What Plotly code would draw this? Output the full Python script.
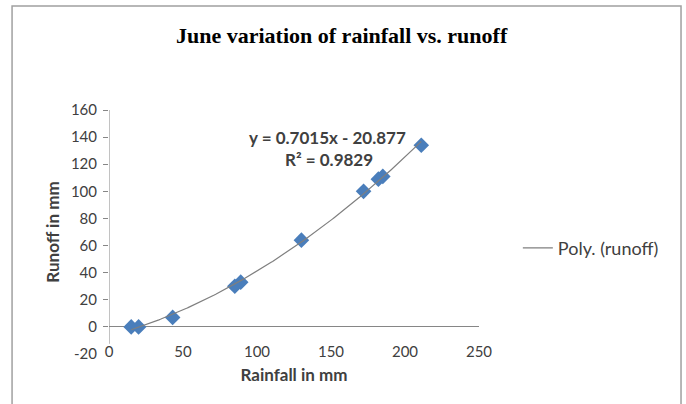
import numpy as np
import plotly.graph_objects as go

# Data
rainfall = [15, 20, 43, 85, 89, 130, 172, 182, 185, 211]
runoff = [0, 0, 7, 30, 33, 64, 100, 109, 111, 134]

title_text = "June variation of rainfall vs. runoff"
x_title = "Rainfall in mm"
y_title = "Runoff in mm"
trend_name = "Poly. (runoff)"
eq_line1 = "y = 0.7015x - 20.877"
eq_line2 = "R² = 0.9829"

x_ticks = [0, 50, 100, 150, 200, 250]
y_ticks = [-20, 0, 20, 40, 60, 80, 100, 120, 140, 160]
y_tick_labels = ["-20", "0", "20", "40", "60", "80", "100", "120", "140", "160"]
y_tick_marks = [0, 20, 40, 60, 80, 100, 120, 140, 160]
y_range = [-20, 160]
y_line_bottom = -12.5

# Polynomial (order 2) trendline, as in the spreadsheet
coef = np.polyfit(rainfall, runoff, 2)
xs = np.linspace(min(rainfall), max(rainfall), 200)
ys = np.polyval(coef, xs)

BLUE = "#4A7EBB"
AXIS = "#868686"
TXT = "#404040"
FONT = "Lato"

fig = go.Figure()
fig.add_trace(go.Scatter(
    x=xs, y=ys, mode="lines", name=trend_name, yaxis="y2",
    line=dict(color="#7F7F7F", width=1.2), showlegend=True,
))
fig.add_trace(go.Scatter(
    x=rainfall, y=runoff, mode="markers", name="runoff",
    marker=dict(symbol="diamond", size=12, color=BLUE,
                line=dict(width=0)),
    showlegend=False,
))

fig.update_layout(
    width=686, height=404,
    margin=dict(l=109, r=207, t=110, b=50),
    paper_bgcolor="white", plot_bgcolor="white",
    font=dict(family=FONT, size=15, color=TXT),
    title=dict(text=title_text, x=0.498, xref="container", xanchor="center",
               y=1 - 35 / 404, yref="container", yanchor="middle",
               font=dict(family="Liberation Serif", size=22, color="#000000",
                         weight="bold")),
    xaxis=dict(range=[0, 250], tickvals=x_ticks, showgrid=False,
               zeroline=False, showline=False, ticks="",
               anchor="free", position=0.055,
               tickfont=dict(size=15, color=TXT),
               title=dict(text=x_title, standoff=10,
                          font=dict(size=17, color=TXT, weight="bold"))),
    yaxis=dict(range=y_range, tickvals=y_ticks, ticktext=y_tick_labels,
               showgrid=False,
               zeroline=True, zerolinecolor=AXIS, zerolinewidth=1,
               showline=False, ticks="",
               ticklabelstandoff=11,
               tickfont=dict(size=15, color=TXT),
               title=dict(text=y_title, standoff=6,
                          font=dict(size=17, color=TXT, weight="bold"))),
    yaxis2=dict(range=y_range, overlaying="y", side="left",
                tickvals=y_tick_marks, showticklabels=False,
                showgrid=False, zeroline=False, showline=False,
                ticks="outside", ticklen=5, tickcolor=AXIS),
    legend=dict(x=1.105, xanchor="left", y=0.434, yanchor="middle",
                bgcolor="rgba(0,0,0,0)", font=dict(size=18, color=TXT)),
    showlegend=True,
)

# vertical axis line (stops short of the -20 level, as in the reference)
fig.add_shape(type="line", xref="x", yref="y", x0=0, x1=0,
              y0=y_line_bottom, y1=y_range[1],
              line=dict(color=AXIS, width=1))

fig.add_annotation(x=147.5, y=140, xref="x", yref="y", text=eq_line1,
                   showarrow=False, font=dict(size=17, color=TXT, weight="bold"))
fig.add_annotation(x=148.5, y=123.5, xref="x", yref="y", text=eq_line2,
                   showarrow=False, font=dict(size=17, color=TXT, weight="bold"))

# chart frame (bottom edge cut off in the reference)
fig.add_shape(type="path", xref="paper", yref="paper",
              path="M -0.262 -0.3 L -0.262 1.426 L 1.546 1.426 L 1.546 -0.3",
              line=dict(color="#A0A0A0", width=1.5))

fig.write_html("out.html")
